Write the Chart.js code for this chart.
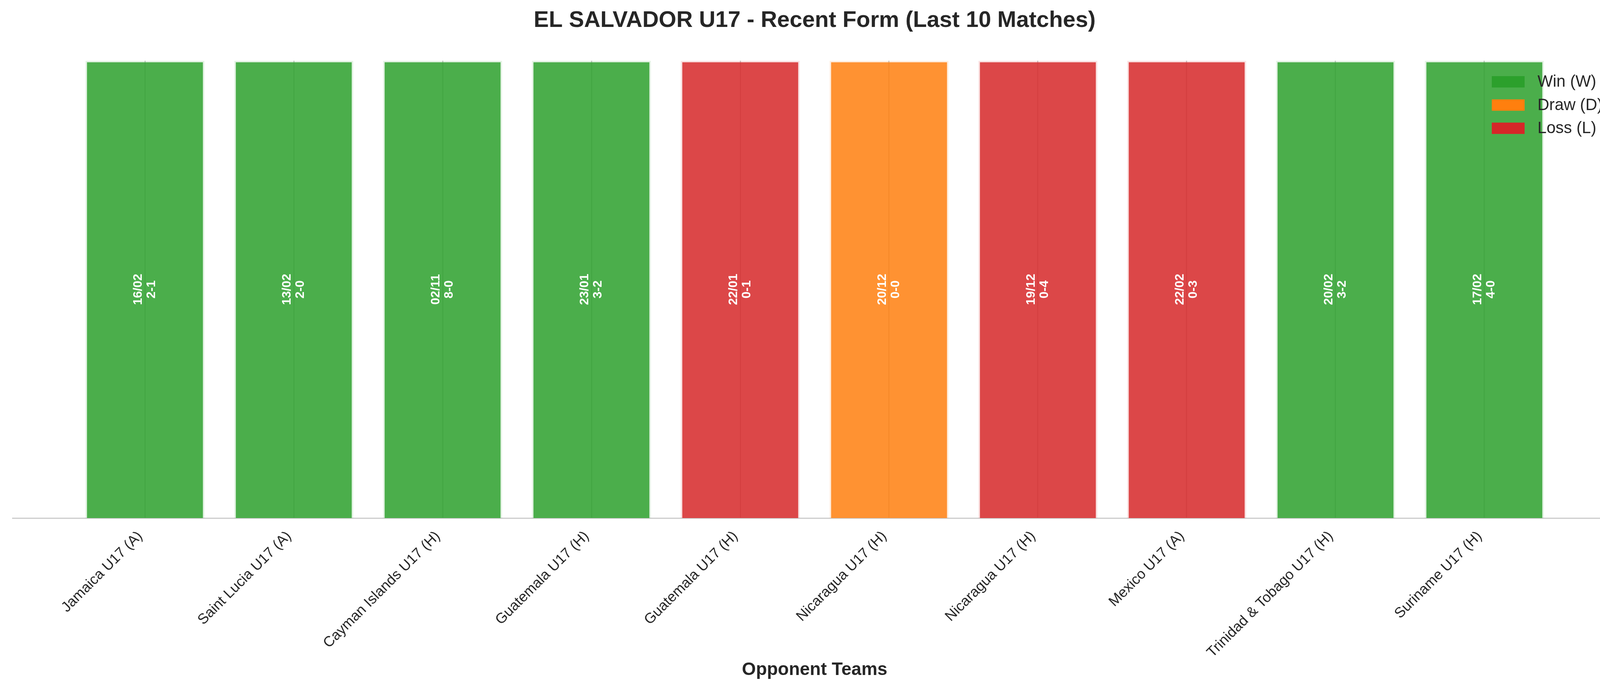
<!DOCTYPE html>
<html>
<head>
<meta charset="utf-8">
<script src="https://cdn.jsdelivr.net/npm/chart.js@4.4.1/dist/chart.umd.min.js"></script>
<style>
  html, body { margin: 0; padding: 0; background: #fff; overflow: hidden; }
  #wrap { width: 4170px; height: 1770px; }
</style>
</head>
<body>
<div id="wrap"><canvas id="chart" width="4170" height="1770"></canvas></div>
<script>
// last 10 matches, as plotted left -> right
const teams = [
    'Jamaica U17 (A)', 'Saint Lucia U17 (A)', 'Cayman Islands U17 (H)', 'Guatemala U17 (H)',
    'Guatemala U17 (H)', 'Nicaragua U17 (H)', 'Nicaragua U17 (H)', 'Mexico U17 (A)',
    'Trinidad & Tobago U17 (H)', 'Suriname U17 (H)'
];
const results = ['W', 'W', 'W', 'W', 'L', 'D', 'L', 'L', 'W', 'W'];
const matchDates = ['16/02', '13/02', '02/11', '23/01', '22/01', '20/12', '19/12', '22/02', '20/02', '17/02'];
const scores = ['2-1', '2-0', '8-0', '3-2', '0-1', '0-0', '0-4', '0-3', '3-2', '4-0'];
const barHeights = [1, 1, 1, 1, 1, 1, 1, 1, 1, 1];
const legendKeys = ['W', 'D', 'L'];
const legendLabels = ['Win (W)', 'Draw (D)', 'Loss (L)'];

const resultColors = { W: [44, 160, 44], D: [255, 127, 14], L: [214, 39, 40] };
const FONT = "'Liberation Sans', Arial, Helvetica, sans-serif";
const INK = '#262626';

function rgba(c, a) {
    return `rgba(${c[0]}, ${c[1]}, ${c[2]}, ${a})`;
}

// date + score written sideways in the middle of each bar
const barTextPlugin = {
    id: 'barText',
    afterDatasetsDraw(chart) {
        const ctx = chart.ctx;
        const meta = chart.getDatasetMeta(0);
        ctx.save();
        ctx.fillStyle = '#ffffff';
        ctx.font = `bold 32px ${FONT}`;
        ctx.textAlign = 'center';
        ctx.textBaseline = 'middle';
        meta.data.forEach((bar, i) => {
            const cy = (bar.y + bar.base) / 2;
            ctx.save();
            ctx.translate(bar.x, cy);
            ctx.rotate(-Math.PI / 2);
            ctx.fillText(matchDates[i], 0, -17);
            ctx.fillText(scores[i], 0, 17);
            ctx.restore();
        });
        ctx.restore();
    }
};

// frameless legend in the upper right corner, on top of the bars
const legendPlugin = {
    id: 'resultLegend',
    afterDraw(chart) {
        const ctx = chart.ctx;
        const area = chart.chartArea;
        const x0 = area.right - 320;
        ctx.save();
        ctx.font = `41.7px ${FONT}`;
        ctx.textAlign = 'left';
        ctx.textBaseline = 'middle';
        legendKeys.forEach((k, i) => {
            const cy = area.top + 54 + i * 59.5;
            ctx.fillStyle = rgba(resultColors[k], 1);
            ctx.fillRect(x0, cy - 14.5, 84, 29);
            ctx.fillStyle = INK;
            ctx.fillText(legendLabels[i], x0 + 117, cy + 1);
        });
        ctx.restore();
    }
};

new Chart(document.getElementById('chart'), {
    type: 'bar',
    data: {
        datasets: [{
            data: teams.map((t, i) => ({ x: i, y: barHeights[i] })),
            backgroundColor: results.map(r => rgba(resultColors[r], 0.85)),
            borderColor: results.map(r => rgba(resultColors[r], 0.13)),
            borderWidth: 4,
            borderSkipped: 'start',
            barPercentage: 0.8,
            categoryPercentage: 1.0
        }]
    },
    options: {
        responsive: false,
        devicePixelRatio: 1,
        animation: false,
        layout: { padding: { left: 32, right: 31, top: 0, bottom: 0 } },
        plugins: {
            legend: { display: false },
            tooltip: { enabled: false },
            title: {
                display: true,
                text: 'EL SALVADOR U17 - Recent Form (Last 10 Matches)',
                color: INK,
                font: { family: FONT, size: 58, weight: 'bold', lineHeight: 1.2 },
                padding: { top: 18, bottom: 68 }
            }
        },
        scales: {
            x: {
                type: 'linear',
                bounds: 'data',
                offset: false,
                min: -0.89,
                max: 9.89,
                afterBuildTicks: axis => {
                    axis.ticks = teams.map((t, i) => ({ value: i }));
                },
                afterFit: axis => {
                    axis.height = 443;
                },
                ticks: {
                    autoSkip: false,
                    minRotation: 45,
                    maxRotation: 45,
                    padding: 25,
                    labelOffset: -12,
                    color: INK,
                    font: { family: FONT, size: 37 },
                    callback: v => teams[v]
                },
                grid: { display: true, offset: false, color: '#cccccc', lineWidth: 3, drawTicks: false },
                border: { display: true, color: '#cccccc', width: 3 },
                title: {
                    display: true,
                    text: 'Opponent Teams',
                    color: INK,
                    font: { family: FONT, size: 46, weight: 'bold', lineHeight: 1.2 },
                    padding: { top: 0, bottom: 26 }
                }
            },
            y: { display: false, min: 0, max: 1 }
        }
    },
    plugins: [barTextPlugin, legendPlugin]
});
</script>
</body>
</html>
